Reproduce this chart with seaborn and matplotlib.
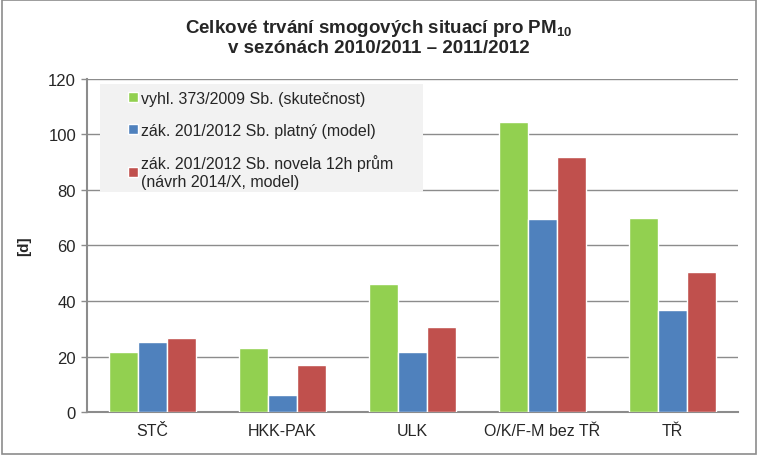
import numpy as np
import pandas as pd
import seaborn as sns
import matplotlib.pyplot as plt
from matplotlib.patches import Rectangle

regions = ["STČ", "HKK-PAK", "ULK", "O/K/F-M bez TŘ", "TŘ"]
series = ["vyhl. 373/2009 Sb. (skutečnost)",
          "zák. 201/2012 Sb. platný (model)",
          "zák. 201/2012 Sb. novela 12h prům\n(návrh 2014/X, model)"]
actual = [21.7, 23.2, 46.1, 104.4, 69.8]
model_valid = [25.2, 6.3, 21.5, 69.4, 36.9]
model_draft = [26.8, 17.0, 30.6, 91.8, 50.3]
colors = ["#92d050", "#4f81bd", "#c0504d"]

df = pd.DataFrame({
    "region": regions * 3,
    "days": actual + model_valid + model_draft,
    "series": [series[0]] * 5 + [series[1]] * 5 + [series[2]] * 5,
})

sns.set_style("white")
plt.rcParams['font.family'] = ['Liberation Sans', 'DejaVu Sans']
plt.rcParams['mathtext.default'] = 'regular'

fig = plt.figure(figsize=(7.58, 4.56), dpi=100)
ax = fig.add_axes([0.115, 0.094, 0.858, 0.731])

sns.barplot(data=df, x="region", y="days", hue="series", palette=colors,
            width=0.67, saturation=1, ax=ax, zorder=3)

ax.set_ylim(0, 120)
ax.set_yticks(range(0, 121, 20))
ax.set_xlim(-0.5, 4.5)
ax.yaxis.grid(True, color="#8c8c8c", linewidth=1, zorder=0)
ax.set_axisbelow(True)
for s in ["top", "right"]:
    ax.spines[s].set_visible(False)
for s in ["left", "bottom"]:
    ax.spines[s].set_color("#8c8c8c")
    ax.spines[s].set_linewidth(1.5)

ax.tick_params(axis="x", which="major", length=0, labelsize=11.5, pad=8)
ax.set_xticks(np.arange(-0.5, 5.0, 1.0), minor=True)
ax.tick_params(axis="x", which="minor", length=5, width=1, color="#8c8c8c", direction="out")
ax.tick_params(axis="y", length=4, width=1, color="#8c8c8c", direction="out",
               labelsize=12, left=True, pad=4)
ax.set_xlabel("")
ax.set_ylabel("[d]", fontsize=11, fontweight="bold", labelpad=12)

# grey legend background, wider than the legend content
ax.add_patch(Rectangle((0.0197, 0.66), 0.497, 0.324, transform=ax.transAxes,
                       facecolor="#f2f2f2", edgecolor="none", zorder=4))
leg = ax.legend(loc="upper left", bbox_to_anchor=(0.052, 0.985), frameon=False,
                fontsize=11.5, handlelength=0.6, handleheight=0.6, handletextpad=0.2,
                labelspacing=1.05, borderpad=0.45, borderaxespad=0)
leg.set_zorder(5)

fig.text(0.5, 0.918, "Celkové trvání smogových situací pro PM$_{10}$\nv sezónách 2010/2011 – 2011/2012",
         ha="center", va="center", fontsize=13.5, fontweight="bold", linespacing=1.05)

fig.patches.append(Rectangle((0.002, 0.003), 0.996, 0.994, transform=fig.transFigure,
                             fill=False, edgecolor="#8c8c8c", linewidth=1.2))

fig.savefig("out.png", dpi=100)
